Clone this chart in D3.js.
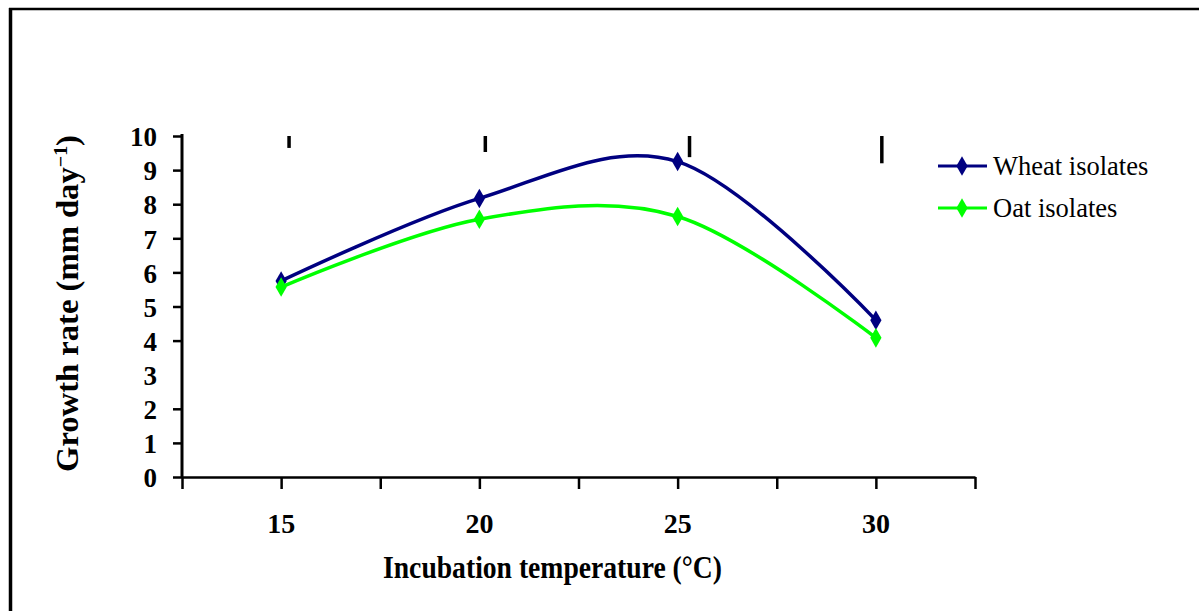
<!DOCTYPE html>
<html>
<head>
<meta charset="utf-8">
<script src="https://cdnjs.cloudflare.com/ajax/libs/d3/7.8.5/d3.min.js"></script>
<style>
  body { margin: 0; background: #fff; }
  svg { display: block; }
  .axis path, .axis line { stroke: #000; }
  .axis text { font-family: "Liberation Serif", "Times New Roman", serif; font-weight: bold; fill: #000; }
</style>
</head>
<body>
<script>
// data
var temps = [15, 20, 25, 30];
var wheat = [5.75, 8.17, 9.25, 4.6];
var oat = [5.57, 7.56, 7.64, 4.08];
var yTicks = [0, 1, 2, 3, 4, 5, 6, 7, 8, 9, 10];
var xTicks = [12.5, 15, 17.5, 20, 22.5, 25, 27.5, 30, 32.5];
var xLabels = [15, 20, 25, 30];
// the stray vertical bars along the top (x position, low end, high end)
var barX = [15.2, 20.15, 25.3, 30.15];
var barLow = [9.65, 9.53, 9.38, 9.2];
var barHigh = [10, 10, 10, 10];

var seriesNames = ["Wheat isolates", "Oat isolates"];
var seriesColors = ["#000080", "#00ff00"];

var W = 1199, H = 611;
var margin = {left: 182, right: 224, top: 136, bottom: 134};

var svg = d3.select("body").append("svg")
    .attr("width", W)
    .attr("height", H);

// frame lines (top and left only, the rest is cut off)
svg.append("line").attr("x1", 9).attr("x2", W).attr("y1", 9).attr("y2", 9)
    .attr("stroke", "#000").attr("stroke-width", 2.5);
svg.append("line").attr("x1", 10.5).attr("x2", 10.5).attr("y1", 8).attr("y2", H)
    .attr("stroke", "#000").attr("stroke-width", 3.5);

var xScale = d3.scaleLinear().domain([12.5, 32.5]).range([margin.left, W - margin.right]);
var yScale = d3.scaleLinear().domain([0, 10]).range([H - margin.bottom, margin.top]);

// x axis, ticks every half category, labels only on the categories
var xAxis = d3.axisBottom(xScale).tickValues(xTicks).tickSize(12).tickSizeOuter(0).tickFormat("");
var gx = svg.append("g").attr("class", "axis")
    .attr("transform", "translate(0," + yScale(0) + ")")
    .call(xAxis);
gx.select(".domain").attr("stroke-width", 2.5);
gx.selectAll(".tick line").attr("stroke-width", 2.5);

svg.selectAll(".xlab").data(xLabels).enter().append("text")
    .attr("class", "xlab")
    .attr("x", function(d) { return xScale(d); })
    .attr("y", 533)
    .attr("text-anchor", "middle")
    .style("font-family", "'Liberation Serif', serif")
    .style("font-weight", "bold")
    .style("font-size", "28px")
    .text(function(d) { return d; });

// y axis
var yAxis = d3.axisLeft(yScale).tickValues(yTicks).tickSize(9).tickSizeOuter(0).tickPadding(16);
var gy = svg.append("g").attr("class", "axis")
    .attr("transform", "translate(" + xScale(12.5) + ",0)")
    .call(yAxis);
gy.select(".domain").attr("stroke-width", 3).attr("d", "M0," + (yScale(0) + 1) + "V" + (yScale(10) - 2));
gy.selectAll(".tick line").attr("stroke-width", 2.5);
// the original has no tick mark at 3
gy.selectAll(".tick").filter(function(d) { return d === 3; }).select("line").remove();
gy.selectAll(".tick text").style("font-size", "27px").attr("dy", "0.36em");

// axis titles
svg.append("text")
    .attr("x", 383).attr("y", 578)
    .attr("textLength", 339).attr("lengthAdjust", "spacingAndGlyphs")
    .style("font-family", "'Liberation Serif', serif")
    .style("font-weight", "bold")
    .style("font-size", "31px")
    .text("Incubation temperature (°C)");

var ylab = svg.append("text")
    .attr("transform", "translate(78,472) rotate(-90)")
    .attr("textLength", 337).attr("lengthAdjust", "spacingAndGlyphs")
    .style("font-family", "'Liberation Serif', serif")
    .style("font-weight", "bold")
    .style("font-size", "31px");
ylab.append("tspan").text("Growth rate (mm day");
ylab.append("tspan").attr("dy", -11).style("font-size", "19px").text("\u22121");
ylab.append("tspan").attr("dy", 11).text(")");

// vertical bars near the top
svg.selectAll(".bar").data(barX).enter().append("line")
    .attr("class", "bar")
    .attr("x1", function(d) { return xScale(d); })
    .attr("x2", function(d) { return xScale(d); })
    .attr("y1", function(d, i) { return yScale(barHigh[i]); })
    .attr("y2", function(d, i) { return yScale(barLow[i]); })
    .attr("stroke", "#000")
    .attr("stroke-width", 3.5);

// smoothed lines like excel
var line = d3.line()
    .x(function(d, i) { return xScale(temps[i]); })
    .y(function(d) { return yScale(d); })
    .curve(d3.curveCardinal.tension(0));

var diamond = d3.symbol().type(d3.symbolDiamond).size(110);

[wheat, oat].forEach(function(vals, s) {
    svg.append("path")
        .datum(vals)
        .attr("d", line)
        .attr("fill", "none")
        .attr("stroke", seriesColors[s])
        .attr("stroke-width", 3.5);
    svg.selectAll(".pt" + s).data(vals).enter().append("path")
        .attr("class", "pt" + s)
        .attr("d", diamond)
        .attr("transform", function(d, i) { return "translate(" + xScale(temps[i]) + "," + yScale(d) + ")"; })
        .attr("fill", seriesColors[s]);
});

// legend
var legend = svg.append("g").attr("transform", "translate(938,166)");
seriesNames.forEach(function(name, i) {
    var g = legend.append("g").attr("transform", "translate(0," + (i * 42) + ")");
    g.append("line").attr("x1", 0).attr("x2", 49).attr("y1", 0).attr("y2", 0)
        .attr("stroke", seriesColors[i]).attr("stroke-width", 3);
    g.append("path").attr("d", diamond).attr("transform", "translate(24,0)").attr("fill", seriesColors[i]);
    g.append("text")
        .attr("x", 55).attr("y", 9)
        .style("font-family", "'Liberation Serif', serif")
        .style("font-size", "26.5px")
        .text(name);
});
</script>
</body>
</html>
